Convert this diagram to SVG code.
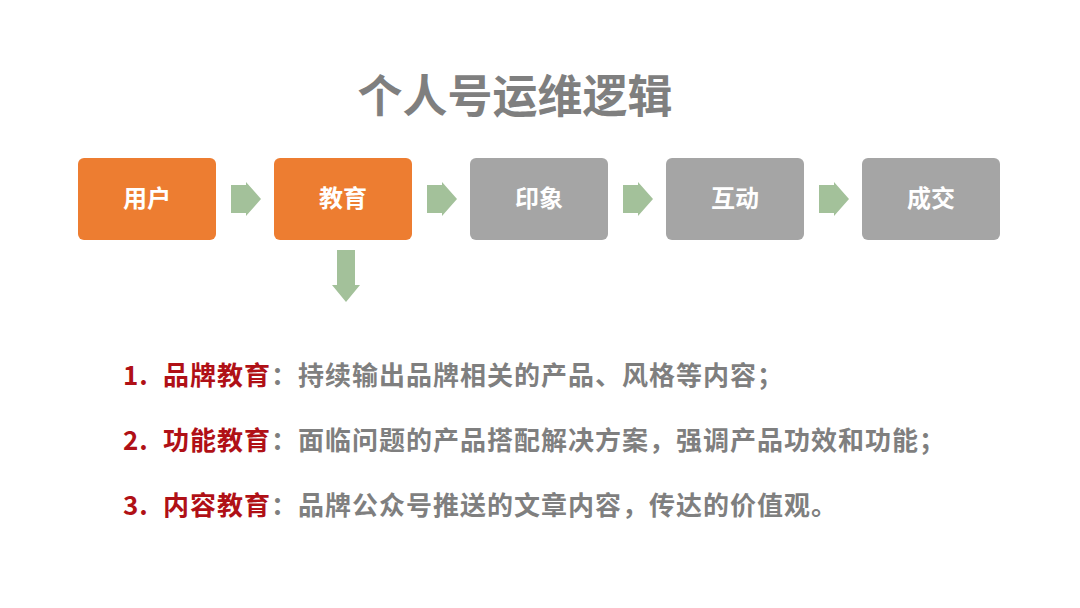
<svg xmlns="http://www.w3.org/2000/svg" width="1080" height="608" viewBox="0 0 1080 608">
<style>
.box-o{fill:#ED7D31}
.box-g{fill:#A5A5A5}
.lbl{font-family:"Noto Sans CJK SC","Noto Sans",sans-serif;font-weight:bold;font-size:24px;fill:#FFFFFF;text-anchor:middle}
.title{font-family:"Noto Sans CJK SC","Noto Sans",sans-serif;font-weight:bold;font-size:45px;fill:#7F7F7F;text-anchor:middle}
.item{font-family:"Noto Sans CJK SC","Noto Sans",sans-serif;font-weight:bold;font-size:26px;fill:#7F7F7F;letter-spacing:1px}
.red{fill:#B01016}
.arr{fill:#A3C19A}
</style>
<rect width="1080" height="608" fill="#FFFFFF"/>
<text class="title" x="515" y="113">个人号运维逻辑</text>
<g id="node-yonghu"><rect class="box-o" x="78" y="158" width="138" height="82" rx="6"/><text class="lbl" x="147" y="207">用户</text></g>
<g id="node-jiaoyu"><rect class="box-o" x="274" y="158" width="138" height="82" rx="6"/><text class="lbl" x="343" y="207">教育</text></g>
<g id="node-yinxiang"><rect class="box-g" x="470" y="158" width="138" height="82" rx="6"/><text class="lbl" x="539" y="207">印象</text></g>
<g id="node-hudong"><rect class="box-g" x="666" y="158" width="138" height="82" rx="6"/><text class="lbl" x="735" y="207">互动</text></g>
<g id="node-chengjiao"><rect class="box-g" x="862" y="158" width="138" height="82" rx="6"/><text class="lbl" x="931" y="207">成交</text></g>
<g id="connectors">
<polygon class="arr" points="231,185 246,185 246,182 261,199 246,216 246,213 231,213"/>
<polygon class="arr" points="427,185 442,185 442,182 457,199 442,216 442,213 427,213"/>
<polygon class="arr" points="623,185 638,185 638,182 653,199 638,216 638,213 623,213"/>
<polygon class="arr" points="819,185 834,185 834,182 849,199 834,216 834,213 819,213"/>
<polygon class="arr" points="337,250 355,250 355,285 360,285 346,302 332,285 337,285"/>
</g>
<g id="list">
<text class="item red" x="123" y="385">1.</text>
<text class="item red" x="163" y="385">品牌教育</text>
<text class="item" x="271" y="385">：</text>
<text class="item" x="298" y="385">持续输出品牌相关的产品、风格等内容；</text>
<text class="item red" x="123" y="450">2.</text>
<text class="item red" x="163" y="450">功能教育</text>
<text class="item" x="271" y="450">：</text>
<text class="item" x="298" y="450">面临问题的产品搭配解决方案，强调产品功效和功能；</text>
<text class="item red" x="123" y="515">3.</text>
<text class="item red" x="163" y="515">内容教育</text>
<text class="item" x="271" y="515">：</text>
<text class="item" x="298" y="515">品牌公众号推送的文章内容，传达的价值观。</text>
</g>
</svg>
